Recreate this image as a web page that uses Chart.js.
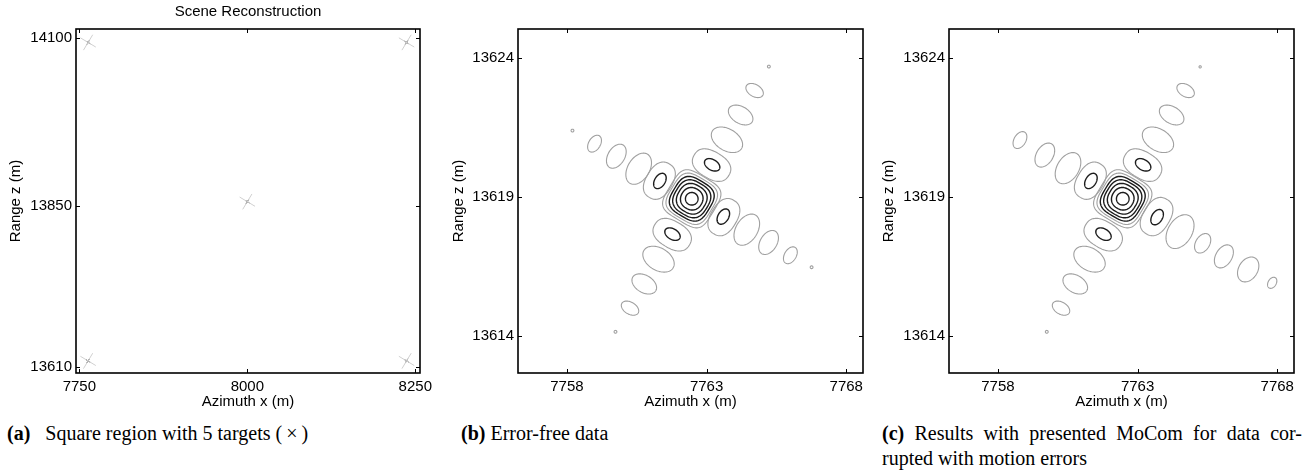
<!DOCTYPE html>
<html>
<head>
<meta charset="utf-8">
<script src="https://cdn.jsdelivr.net/npm/chart.js@4.4.1/dist/chart.umd.min.js"></script>
<style>
  body { margin: 0; width: 1309px; height: 470px; background: #fff; position: relative; overflow: hidden; }
  .panel { position: absolute; top: 0; height: 412px; }
  .caption { position: absolute; font-family: "Liberation Serif", "Times New Roman", serif; font-size: 20px; line-height: 25px; color: #000; white-space: nowrap; }
  .justified { text-align: justify; text-align-last: justify; white-space: normal; }
</style>
</head>
<body>
<div class="panel" style="left:0;width:440px"><canvas id="sceneChart"></canvas></div>
<div class="panel" style="left:440px;width:440px"><canvas id="errorFreeChart"></canvas></div>
<div class="panel" style="left:873px;width:436px"><canvas id="mocomChart"></canvas></div>
<div class="caption" style="left:7px;top:421px"><b>(a)</b>&nbsp;&nbsp; Square region with 5 targets (&thinsp;&times;&thinsp;)</div>
<div class="caption" style="left:461px;top:421px"><b>(b)</b> Error-free data</div>
<div class="caption justified" style="left:882px;top:421px;width:420px"><b>(c)</b> Results with presented MoCom for data cor-</div>
<div class="caption" style="left:882px;top:446px">rupted with motion errors</div>
<script>
// (a) scene: five point targets
const targetAzimuth = [7763, 8237, 8000, 7763, 8237];
const targetRange = [14093, 14093, 13856, 13619, 13619];
const sceneXTicks = [7750, 8000, 8250];
const sceneZTicks = [13610, 13850, 14100];

// (b), (c) zoom on the target at 7763 / 13619
const zoomXTicks = [7758, 7763, 7768];
const zoomZTicks = [13614, 13619, 13624];
const armAngle = 59; // deg, direction of the first sidelobe arm

// main lobe contour rings: half size (m), squareness, level
const mainLobeX = 7762.47;
const mainLobeZ = 13618.93;
const ringSize = [0.226, 0.394, 0.52, 0.627, 0.717, 0.806, 0.896];
const ringShape = [2, 2.2, 2.5, 2.8, 3.2, 3.6, 4];
const ringLevel = ['hi', 'hi', 'hi', 'hi', 'hi', 'lo', 'lo'];

// sidelobes: [x, z, half width across arm, half width along arm, arm, level]
const sidelobesErrorFree = [
  [7763.18, 13620.14, 0.72, 0.48, 'u', 'lo'], [7763.20, 13620.15, 0.30, 0.19, 'u', 'hi'],
  [7763.73, 13621.05, 0.61, 0.39, 'u', 'lo'], [7764.22, 13621.94, 0.48, 0.30, 'u', 'lo'],
  [7764.72, 13622.82, 0.34, 0.215, 'u', 'lo'], [7765.23, 13623.68, 0.05, 0.05, 'u', 'lo'],
  [7761.77, 13617.64, 0.72, 0.48, 'u', 'lo'], [7761.78, 13617.66, 0.30, 0.19, 'u', 'hi'],
  [7761.28, 13616.76, 0.61, 0.40, 'u', 'lo'], [7760.77, 13615.87, 0.48, 0.31, 'u', 'lo'],
  [7760.26, 13615.00, 0.34, 0.215, 'u', 'lo'], [7759.74, 13614.15, 0.05, 0.05, 'u', 'lo'],
  [7761.31, 13619.58, 0.70, 0.47, 'v', 'lo'], [7761.33, 13619.57, 0.30, 0.19, 'v', 'hi'],
  [7760.57, 13620.01, 0.61, 0.39, 'v', 'lo'], [7759.77, 13620.46, 0.47, 0.30, 'v', 'lo'],
  [7758.99, 13620.91, 0.33, 0.21, 'v', 'lo'], [7758.20, 13621.38, 0.05, 0.05, 'v', 'lo'],
  [7763.62, 13618.27, 0.70, 0.47, 'v', 'lo'], [7763.60, 13618.29, 0.30, 0.19, 'v', 'hi'],
  [7764.44, 13617.82, 0.61, 0.39, 'v', 'lo'], [7765.22, 13617.36, 0.47, 0.30, 'v', 'lo'],
  [7766.00, 13616.90, 0.33, 0.21, 'v', 'lo'], [7766.76, 13616.47, 0.05, 0.05, 'v', 'lo'],
];
const sidelobesMocom = [
  [7763.18, 13620.14, 0.72, 0.48, 'u', 'lo'], [7763.20, 13620.15, 0.30, 0.19, 'u', 'hi'],
  [7763.73, 13621.05, 0.61, 0.39, 'u', 'lo'], [7764.22, 13621.94, 0.48, 0.30, 'u', 'lo'],
  [7764.72, 13622.82, 0.34, 0.215, 'u', 'lo'], [7765.24, 13623.67, 0.04, 0.04, 'u', 'lo'],
  [7761.77, 13617.64, 0.72, 0.48, 'u', 'lo'], [7761.78, 13617.66, 0.30, 0.19, 'u', 'hi'],
  [7761.28, 13616.76, 0.61, 0.40, 'u', 'lo'], [7760.77, 13615.87, 0.48, 0.31, 'u', 'lo'],
  [7760.26, 13615.00, 0.34, 0.215, 'u', 'lo'], [7759.75, 13614.15, 0.05, 0.05, 'u', 'lo'],
  [7761.31, 13619.58, 0.70, 0.47, 'v', 'lo'], [7761.33, 13619.57, 0.30, 0.19, 'v', 'hi'],
  [7760.51, 13620.03, 0.61, 0.39, 'v', 'lo'], [7759.68, 13620.50, 0.47, 0.30, 'v', 'lo'],
  [7758.79, 13621.04, 0.33, 0.21, 'v', 'lo'],
  [7763.68, 13618.29, 0.72, 0.48, 'v', 'lo'], [7763.70, 13618.27, 0.30, 0.19, 'v', 'hi'],
  [7764.52, 13617.75, 0.66, 0.43, 'v', 'lo'], [7765.33, 13617.33, 0.38, 0.25, 'v', 'lo'],
  [7766.09, 13616.86, 0.45, 0.29, 'v', 'lo'], [7766.96, 13616.39, 0.48, 0.34, 'v', 'lo'],
  [7767.82, 13615.91, 0.215, 0.145, 'v', 'lo'],
];

const FONT = '"Liberation Sans", Arial, Helvetica, sans-serif';
const levelColor = { hi: '#1c1c1c', lo: '#a0a0a0' };
const levelWidth = { hi: 1.4, lo: 1.1 };

// squircle outline in a local frame (a along local x, b along local y)
function traceShape(ctx, a, b, n) {
  const steps = 96;
  ctx.beginPath();
  for (let i = 0; i <= steps; i++) {
    const t = (i / steps) * Math.PI * 2;
    const c = Math.cos(t), s = Math.sin(t);
    const u = a * Math.sign(c) * Math.pow(Math.abs(c), 2 / n);
    const v = b * Math.sign(s) * Math.pow(Math.abs(s), 2 / n);
    if (i === 0) ctx.moveTo(u, v); else ctx.lineTo(u, v);
  }
  ctx.closePath();
}

// draws every contour dataset from its point elements
const contourPlugin = {
  id: 'contours',
  afterDatasetsDraw(chart) {
    const { ctx, chartArea, scales: { x, y } } = chart;
    ctx.save();
    ctx.beginPath();
    ctx.rect(chartArea.left, chartArea.top, chartArea.right - chartArea.left, chartArea.bottom - chartArea.top);
    ctx.clip();
    chart.data.datasets.forEach((ds, i) => {
      if (!ds.shapes) return;
      chart.getDatasetMeta(i).data.forEach((el, j) => {
        const sh = ds.shapes[j];
        const kx = x.getPixelForValue(ds.data[j].x + 1) - x.getPixelForValue(ds.data[j].x);
        const ky = y.getPixelForValue(ds.data[j].y) - y.getPixelForValue(ds.data[j].y + 1);
        ctx.save();
        ctx.translate(el.x, el.y);
        ctx.scale(kx, -ky);
        ctx.rotate((sh.angle * Math.PI) / 180);
        traceShape(ctx, sh.along, sh.across, sh.n);
        ctx.restore();
        ctx.strokeStyle = levelColor[sh.level];
        ctx.lineWidth = levelWidth[sh.level];
        ctx.stroke();
      });
    });
    ctx.restore();
  },
};

// box with inward ticks on all four sides
const framePlugin = {
  id: 'frame',
  afterDraw(chart) {
    const { ctx, chartArea: { left, right, top, bottom }, scales: { x, y } } = chart;
    ctx.save();
    ctx.strokeStyle = '#000';
    ctx.lineWidth = 1;
    ctx.beginPath();
    x.ticks.forEach((t) => {
      const px = Math.round(x.getPixelForValue(t.value)) + 0.5;
      ctx.moveTo(px, bottom); ctx.lineTo(px, bottom - 4);
      ctx.moveTo(px, top); ctx.lineTo(px, top + 4);
    });
    y.ticks.forEach((t) => {
      const py = Math.round(y.getPixelForValue(t.value)) + 0.5;
      ctx.moveTo(left, py); ctx.lineTo(left + 4, py);
      ctx.moveTo(right, py); ctx.lineTo(right - 4, py);
    });
    ctx.stroke();
    ctx.lineWidth = 1.6;
    ctx.strokeRect(left, top, right - left, bottom - top);
    ctx.restore();
  },
};

function contourDatasets(sidelobes) {
  const ringData = ringSize.map(() => ({ x: mainLobeX, y: mainLobeZ }));
  const ringShapes = ringSize.map((r, i) => ({
    along: r, across: r, n: ringShape[i], angle: armAngle, level: ringLevel[i],
  }));
  const lobeData = sidelobes.map((l) => ({ x: l[0], y: l[1] }));
  const lobeShapes = sidelobes.map((l) => ({
    along: l[3], across: l[2], n: l[2] > 0.69 ? 2.4 : 2,
    angle: l[4] === 'u' ? armAngle : armAngle + 90, level: l[5],
  }));
  return [
    { label: 'sidelobes', data: lobeData, shapes: lobeShapes, pointRadius: 0, showLine: false },
    { label: 'main lobe', data: ringData, shapes: ringShapes, pointRadius: 0, showLine: false },
  ];
}

function axes(xMin, xMax, xTicks, zMin, zMax, zTicks, yWidth, yTitlePad) {
  const tickFont = { family: FONT, size: 15 };
  const plain = (v) => String(v);
  return {
    x: {
      type: 'linear', min: xMin, max: xMax,
      afterBuildTicks: (s) => { s.ticks = xTicks.map((v) => ({ value: v })); },
      afterFit: (s) => { s.height = 39; },
      grid: { display: false, drawTicks: false }, border: { display: false },
      ticks: { font: tickFont, color: '#000', padding: 5, maxRotation: 0, autoSkip: false, callback: plain },
      title: { display: true, text: 'Azimuth x (m)', font: tickFont, color: '#000', padding: { top: 0, bottom: 1 } },
    },
    y: {
      type: 'linear', min: zMin, max: zMax,
      afterBuildTicks: (s) => { s.ticks = zTicks.map((v) => ({ value: v })); },
      afterFit: (s) => { s.width = yWidth; },
      grid: { display: false, drawTicks: false }, border: { display: false },
      ticks: { font: tickFont, color: '#000', padding: 4, autoSkip: false, callback: plain },
      title: { display: true, text: 'Range z (m)', font: tickFont, color: '#000', padding: { top: yTitlePad, bottom: 0 } },
    },
  };
}

const baseOptions = {
  responsive: true,
  maintainAspectRatio: false,
  animation: false,
  events: [],
};

new Chart(document.getElementById('sceneChart'), {
  type: 'scatter',
  data: {
    datasets: [
      {
        label: 'targets (halo)',
        data: targetAzimuth.map((x, i) => ({ x, y: targetRange[i] })),
        pointStyle: 'crossRot', pointRadius: 9, pointRotation: -14,
        borderColor: '#d0d0d0', borderWidth: 1,
      },
      {
        label: 'targets',
        data: targetAzimuth.map((x, i) => ({ x, y: targetRange[i] })),
        pointStyle: 'crossRot', pointRadius: 2.5, pointRotation: -14,
        borderColor: '#333', borderWidth: 1,
      },
    ],
  },
  options: {
    ...baseOptions,
    layout: { padding: { left: 0, right: 20, top: 0, bottom: 0 } },
    plugins: {
      legend: { display: false },
      tooltip: { enabled: false },
      title: {
        display: true, text: 'Scene Reconstruction', fullSize: false, color: '#000',
        font: { family: FONT, size: 15, weight: 'normal' }, padding: { top: 3, bottom: 8 },
      },
    },
    scales: axes(7745, 8257, sceneXTicks, 13601, 14113, sceneZTicks, 76, 7),
  },
  plugins: [framePlugin],
});

new Chart(document.getElementById('errorFreeChart'), {
  type: 'scatter',
  data: { datasets: contourDatasets(sidelobesErrorFree) },
  options: {
    ...baseOptions,
    layout: { padding: { left: 0, right: 17, top: 29, bottom: 0 } },
    plugins: { legend: { display: false }, tooltip: { enabled: false } },
    scales: axes(7756.25, 7768.6, zoomXTicks, 13612.67, 13625.03, zoomZTicks, 78, 10),
  },
  plugins: [contourPlugin, framePlugin],
});

new Chart(document.getElementById('mocomChart'), {
  type: 'scatter',
  data: { datasets: contourDatasets(sidelobesMocom) },
  options: {
    ...baseOptions,
    layout: { padding: { left: 0, right: 15, top: 29, bottom: 0 } },
    plugins: { legend: { display: false }, tooltip: { enabled: false } },
    scales: axes(7756.25, 7768.6, zoomXTicks, 13612.67, 13625.03, zoomZTicks, 76, 7),
  },
  plugins: [contourPlugin, framePlugin],
});
</script>
</body>
</html>
